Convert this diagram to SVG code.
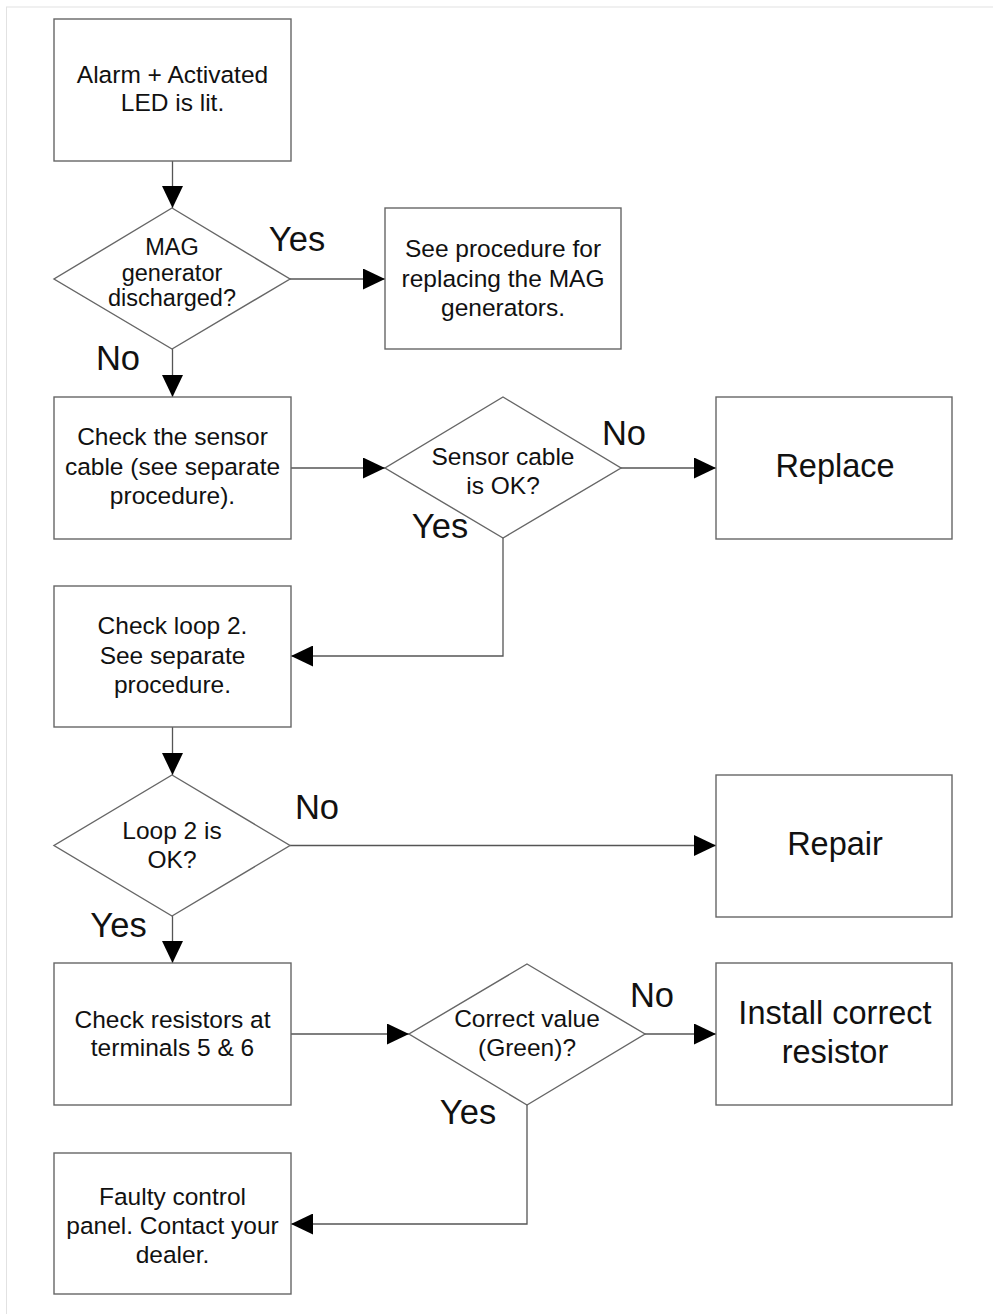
<svg xmlns="http://www.w3.org/2000/svg" width="993" height="1314" viewBox="0 0 993 1314">
  <defs>
    <marker id="arrow" markerUnits="userSpaceOnUse" markerWidth="22" markerHeight="21" refX="22" refY="10.5" orient="auto">
      <path d="M0,0 L22,10.5 L0,21 Z" fill="#000"/>
    </marker>
    <style>
      .box { fill: #fff; stroke: #666; stroke-width: 1.4; }
      .wire { fill: none; stroke: #555; stroke-width: 1.3; }
      .arrowed { marker-end: url(#arrow); }
      text { font-family: "Liberation Sans", Arial, Helvetica, sans-serif; fill: #111; text-anchor: middle; }
      .t { font-size: 24.5px; }
      .tight { font-size: 23.5px; }
      .big { font-size: 32.5px; }
      .lbl { font-size: 34.5px; }
    </style>
  </defs>

  <rect width="993" height="1314" fill="#fff"/>
  <!-- page frame -->
  <rect x="6.5" y="7" width="1000" height="1320" fill="none" stroke="#e2e2e2" stroke-width="1"/>

  <!-- connectors -->
  <g id="connectors">
    <line class="wire arrowed" x1="172.5" y1="161" x2="172.5" y2="208"/>
    <line class="wire arrowed" x1="290" y1="279" x2="385" y2="279"/>
    <line class="wire arrowed" x1="172.5" y1="349" x2="172.5" y2="397"/>
    <line class="wire arrowed" x1="291" y1="468" x2="385" y2="468"/>
    <line class="wire arrowed" x1="621" y1="468" x2="716" y2="468"/>
    <polyline class="wire arrowed" points="503,538 503,656 291,656"/>
    <line class="wire arrowed" x1="172.5" y1="727" x2="172.5" y2="775"/>
    <line class="wire arrowed" x1="290" y1="845.5" x2="716" y2="845.5"/>
    <line class="wire arrowed" x1="172.5" y1="916" x2="172.5" y2="963"/>
    <line class="wire arrowed" x1="291" y1="1034" x2="409" y2="1034"/>
    <line class="wire arrowed" x1="645" y1="1034" x2="716" y2="1034"/>
    <polyline class="wire arrowed" points="527,1105 527,1224 291,1224"/>
  </g>

  <!-- branch labels -->
  <g id="labels">
    <text class="lbl" x="297" y="251">Yes</text>
    <text class="lbl" x="118" y="370">No</text>
    <text class="lbl" x="624" y="445">No</text>
    <text class="lbl" x="440" y="538">Yes</text>
    <text class="lbl" x="317" y="819">No</text>
    <text class="lbl" x="118.5" y="937">Yes</text>
    <text class="lbl" x="652" y="1007">No</text>
    <text class="lbl" x="468" y="1124">Yes</text>
  </g>

  <g id="start">
    <rect class="box" x="54" y="19" width="237" height="142"/>
    <text class="t" x="172.5" y="82.5">Alarm + Activated</text>
    <text class="t" x="172.5" y="111">LED is lit.</text>
  </g>

  <g id="mag-discharged">
    <polygon class="box" points="172,208 290,279 172,349 54,279"/>
    <text class="tight" x="172" y="255">MAG</text>
    <text class="tight" x="172" y="280.5">generator</text>
    <text class="tight" x="172" y="306">discharged?</text>
  </g>

  <g id="replace-mag">
    <rect class="box" x="385" y="208" width="236" height="141"/>
    <text class="t" x="503" y="257">See procedure for</text>
    <text class="t" x="503" y="287">replacing the MAG</text>
    <text class="t" x="503" y="316">generators.</text>
  </g>

  <g id="check-sensor">
    <rect class="box" x="54" y="397" width="237" height="142"/>
    <text class="t" x="172.5" y="445">Check the sensor</text>
    <text class="t" x="172.5" y="475">cable (see separate</text>
    <text class="t" x="172.5" y="504">procedure).</text>
  </g>

  <g id="sensor-ok">
    <polygon class="box" points="503,397 621,468 503,538 385,468"/>
    <text class="t" x="503" y="464.5">Sensor cable</text>
    <text class="t" x="503" y="493.5">is OK?</text>
  </g>

  <g id="replace">
    <rect class="box" x="716" y="397" width="236" height="142"/>
    <text class="big" x="835" y="477">Replace</text>
  </g>

  <g id="check-loop">
    <rect class="box" x="54" y="586" width="237" height="141"/>
    <text class="t" x="172.5" y="634">Check loop 2.</text>
    <text class="t" x="172.5" y="663.5">See separate</text>
    <text class="t" x="172.5" y="693">procedure.</text>
  </g>

  <g id="loop-ok">
    <polygon class="box" points="172,775 290,845.5 172,916 54,845.5"/>
    <text class="t" x="172" y="839">Loop 2 is</text>
    <text class="t" x="172" y="867.5">OK?</text>
  </g>

  <g id="repair">
    <rect class="box" x="716" y="775" width="236" height="142"/>
    <text class="big" x="835" y="855">Repair</text>
  </g>

  <g id="check-resistors">
    <rect class="box" x="54" y="963" width="237" height="142"/>
    <text class="t" x="172.5" y="1027.5">Check resistors at</text>
    <text class="t" x="172.5" y="1056">terminals 5 &amp; 6</text>
  </g>

  <g id="value-ok">
    <polygon class="box" points="527,964 645,1034 527,1105 409,1034"/>
    <text class="t" x="527" y="1027">Correct value</text>
    <text class="t" x="527" y="1055.5">(Green)?</text>
  </g>

  <g id="install-resistor">
    <rect class="box" x="716" y="963" width="236" height="142"/>
    <text class="big" x="835" y="1024">Install correct</text>
    <text class="big" x="835" y="1063">resistor</text>
  </g>

  <g id="faulty-panel">
    <rect class="box" x="54" y="1153" width="237" height="141"/>
    <text class="t" x="172.5" y="1205">Faulty control</text>
    <text class="t" x="172.5" y="1234">panel. Contact your</text>
    <text class="t" x="172.5" y="1263">dealer.</text>
  </g>
</svg>
